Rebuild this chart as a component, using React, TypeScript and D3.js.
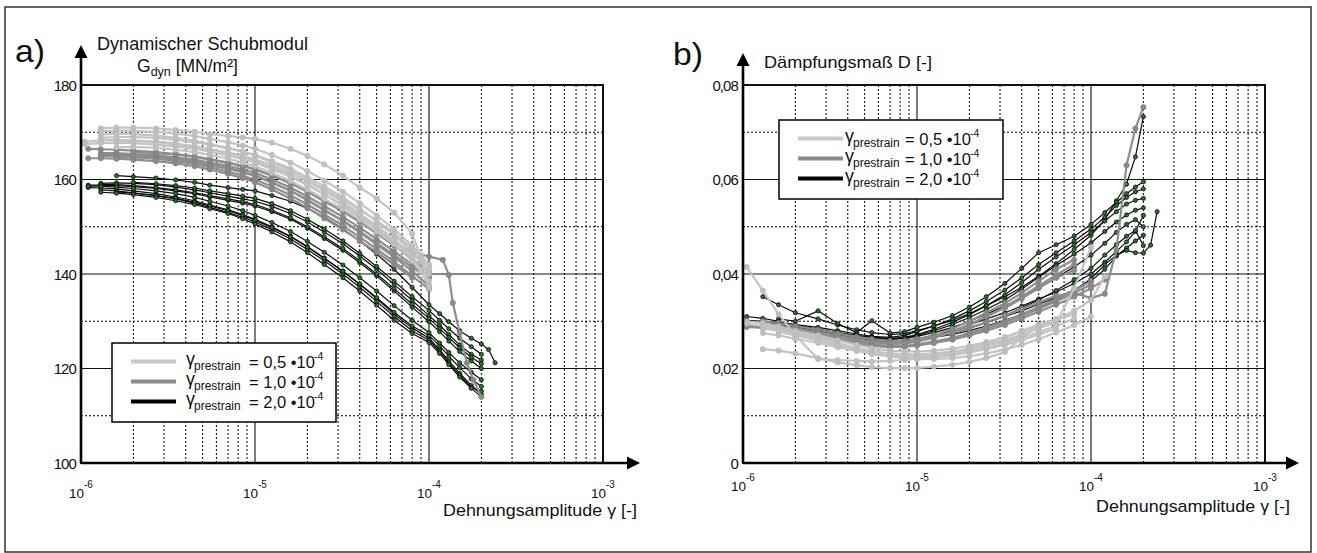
import React from 'react';
import * as d3 from 'd3';

const FONT = "'Liberation Sans', Arial, Helvetica, sans-serif";

type Curve = (number | null)[];

// ---------- Panel a) dynamic shear modulus G_dyn [MN/m²] ----------
const STRAIN_LEFT_LIGHT = [1.05e-6, 1.3e-6, 1.6e-6, 2e-6, 2.7e-6, 3.5e-6, 4.5e-6, 5.5e-6, 7e-6, 8.5e-6, 1e-5, 1.25e-5, 1.6e-5, 2e-5, 2.5e-5, 3.2e-5, 4e-5, 5e-5, 6.3e-5, 8e-5, 9e-5, 1e-4];
const LEFT_LIGHT: Curve[] = [
  [null, 170.8, 171.0, 171.0, 170.8, 170.5, 170.1, 169.6, 169.2, 168.9, 168.6, 167.8, 166.5, 165.0, 163.2, 160.8, 158.3, 156.0, 153.0, 148.5, 143.5, 137.0],
  [null, 170.2, 170.4, 170.3, 170.1, 169.7, 169.2, 168.6, 167.9, 167.2, 166.5, 165.2, 163.6, 161.8, 159.8, 157.4, 155.0, 152.4, 149.5, 146.0, 144.0, 142.0],
  [168.0, 168.3, 168.4, 168.3, 168.0, 167.6, 167.0, 166.4, 165.6, 164.8, 164.0, 162.6, 160.9, 159.0, 156.9, 154.4, 152.0, 149.6, 147.0, 144.0, 142.8, 141.5],
  [null, 168.8, 169.0, 169.0, 168.8, 168.4, 167.9, 167.3, 166.6, 165.9, 165.2, 163.9, 162.3, 160.5, 158.6, 156.2, 153.8, 151.2, 148.2, 144.8, 142.6, 140.0],
  [null, null, 168.0, 168.1, 167.9, 167.5, 167.0, 166.4, 165.7, 165.0, 164.3, 163.0, 161.4, 159.6, 157.6, 155.2, 152.8, 150.2, 147.4, 144.0],
  [167.5, 167.7, 167.8, 167.7, 167.4, 167.0, 166.5, 165.9, 165.1, 164.3, 163.6, 162.2, 160.6, 158.8, 156.8, 154.6, 152.4, 150.0, 147.0, 143.4, 141.0, 138.5],
  [null, 169.5, 169.7, 169.6, 169.3, 168.8, 168.2, 167.5, 166.7, 165.9, 165.1, 163.6, 161.9, 160.0, 158.0, 155.8, 153.6, 151.3, 148.6, 145.4, 143.5, 141.0],
  [null, null, 166.8, 166.9, 166.7, 166.3, 165.8, 165.2, 164.4, 163.6, 162.8, 161.4, 159.7, 157.9, 155.9, 153.7, 151.5, 149.0, 146.3, 142.7, 140.5, 137.5],
];

const STRAIN_LEFT_MID = [1.1e-6, 1.3e-6, 1.6e-6, 2e-6, 2.7e-6, 3.5e-6, 4.5e-6, 5.5e-6, 7e-6, 8.5e-6, 1e-5, 1.25e-5, 1.6e-5, 2e-5, 2.5e-5, 3.2e-5, 4e-5, 5e-5, 6.3e-5, 8e-5, 1e-4, 1.2e-4, 1.3e-4, 1.37e-4, 1.5e-4, 1.65e-4, 1.8e-4, 2e-4];
const LEFT_MID: Curve[] = [
  [166.5, 166.4, 166.3, 166.1, 165.8, 165.4, 164.9, 164.3, 163.6, 162.9, 162.2, 160.9, 159.3, 157.5, 155.6, 153.4, 151.2, 149.0, 146.6, 144.6, 143.7, 143.0, 139.8, 133.9, 127.5, 121.2, 117.6, 114.0],
  [null, 165.6, 165.6, 165.4, 165.1, 164.7, 164.2, 163.6, 162.9, 162.1, 161.4, 160.0, 158.3, 156.4, 154.4, 152.1, 149.8, 147.4, 144.8, 142.0, 139.5],
  [null, 165.2, 165.3, 165.1, 164.8, 164.4, 163.9, 163.2, 162.4, 161.6, 160.8, 159.4, 157.6, 155.6, 153.5, 151.2, 148.8, 146.3, 143.6, 140.6, 137.5],
  [null, null, 164.8, 164.7, 164.5, 164.1, 163.6, 163.0, 162.3, 161.5, 160.8, 159.3, 157.6, 155.7, 153.6, 151.3, 149.0, 146.6, 144.0, 141.4, 139.2],
  [null, 165.0, 165.0, 164.8, 164.4, 163.9, 163.3, 162.6, 161.7, 160.8, 160.0, 158.5, 156.7, 154.7, 152.6, 150.2, 147.8, 145.3, 142.6, 139.6, 136.8],
  [null, null, null, 165.8, 165.6, 165.3, 164.8, 164.2, 163.5, 162.8, 162.1, 160.8, 159.2, 157.4, 155.4, 153.2, 151.0, 148.6, 146.0, 143.2, 140.5],
  [164.5, 164.5, 164.4, 164.2, 163.9, 163.4, 162.8, 162.1, 161.2, 160.3, 159.4, 157.9, 156.0, 154.0, 151.8, 149.4, 147.0, 144.6, 142.0, 139.2],
];

const STRAIN_LEFT_DARK = [1.1e-6, 1.3e-6, 1.6e-6, 2e-6, 2.7e-6, 3.5e-6, 4.5e-6, 5.5e-6, 7e-6, 8.5e-6, 1e-5, 1.25e-5, 1.6e-5, 2e-5, 2.5e-5, 3.2e-5, 4e-5, 5e-5, 6.3e-5, 8e-5, 1e-4, 1.15e-4, 1.3e-4, 1.5e-4, 1.75e-4, 2e-4, 2.2e-4, 2.4e-4];
const LEFT_DARK: Curve[] = [
  [null, null, 160.8, 160.6, 160.3, 159.9, 159.4, 158.8, 158.3, 157.9, 157.6, 156.6, 155.4, 153.9, 152.0, 149.6, 147.0, 144.2, 141.0, 137.2, 133.5, 131.6, 129.9, 128.0, 126.4, 125.2, 124.0, 121.2],
  [null, 159.2, 159.3, 159.2, 158.9, 158.4, 157.8, 157.2, 156.5, 155.9, 155.4, 154.3, 152.8, 151.0, 148.9, 146.4, 143.8, 141.0, 137.8, 134.4, 131.2, 129.2, 127.2, 125.0, 123.0, 121.8],
  [158.8, 158.8, 158.7, 158.5, 158.1, 157.6, 157.0, 156.3, 155.6, 155.0, 154.4, 153.2, 151.6, 149.7, 147.5, 145.0, 142.4, 139.6, 136.4, 133.0, 129.9, 127.8, 125.8, 123.6, 121.6, 120.0],
  [null, 158.9, 158.9, 158.7, 158.3, 157.8, 157.2, 156.6, 155.9, 155.3, 154.7, 153.5, 151.9, 150.0, 147.9, 145.4, 142.8, 140.0, 136.9, 133.6, 130.6, 128.5, 126.6, 124.4, 122.4, 121.0],
  [null, null, null, 159.4, 159.1, 158.7, 158.2, 157.6, 157.0, 156.5, 156.0, 154.9, 153.4, 151.6, 149.5, 147.0, 144.4, 141.6, 138.5, 135.2, 132.3, 130.2, 128.4, 126.4, 124.6, 123.0],
  [158.3, 158.2, 158.0, 157.6, 157.0, 156.3, 155.5, 154.6, 153.6, 152.6, 151.6, 150.0, 148.0, 145.8, 143.4, 140.6, 137.8, 134.8, 131.5, 128.6, 126.4, 124.0, 121.6, 119.0, 116.4, 114.5],
  [null, 157.8, 157.6, 157.2, 156.6, 155.9, 155.0, 154.1, 153.0, 152.0, 151.0, 149.4, 147.4, 145.2, 142.8, 140.0, 137.2, 134.2, 131.0, 128.0, 126.0, 123.6, 121.2, 118.6, 116.0, 115.2],
  [null, null, 157.4, 157.1, 156.6, 156.0, 155.2, 154.4, 153.4, 152.4, 151.4, 149.8, 147.9, 145.7, 143.3, 140.6, 137.9, 135.0, 131.9, 129.0, 127.0, 124.8, 122.6, 120.2, 117.8, 116.2],
  [158.6, 158.6, 158.4, 158.1, 157.6, 157.0, 156.2, 155.4, 154.4, 153.4, 152.4, 150.9, 149.0, 146.9, 144.6, 141.9, 139.2, 136.4, 133.3, 130.2, 127.6, 125.4, 123.4, 121.2, 119.2, 117.6],
  [null, 157.3, 157.1, 156.8, 156.2, 155.5, 154.7, 153.8, 152.8, 151.7, 150.6, 148.9, 146.8, 144.5, 142.0, 139.2, 136.4, 133.4, 130.2, 127.4, 125.5, 123.2, 120.8, 118.2, 115.8, 114.0],
];

// ---------- Panel b) damping ratio D [-] ----------
const STRAIN_RIGHT = [1.05e-6, 1.3e-6, 1.6e-6, 2e-6, 2.7e-6, 3.5e-6, 4.5e-6, 5.5e-6, 7e-6, 8.5e-6, 1e-5, 1.25e-5, 1.6e-5, 2e-5, 2.5e-5, 3.2e-5, 4e-5, 5e-5, 6.3e-5, 8e-5, 1e-4, 1.2e-4, 1.4e-4, 1.6e-4, 1.8e-4, 2e-4, 2.2e-4, 2.4e-4];
const RIGHT_LIGHT: Curve[] = [
  [0.0415, 0.0365, 0.0315, 0.0270, 0.0220, 0.0218, 0.0216, 0.0215, 0.0216, 0.0218, 0.0221, 0.0226, 0.0233, 0.0242, 0.0253, 0.0266, 0.0280, 0.0293, 0.0305],
  [null, 0.0241, 0.0238, 0.0232, 0.0222, 0.0213, 0.0207, 0.0203, 0.0201, 0.0201, 0.0201, 0.0204, 0.0208, 0.0214, 0.0222, 0.0235, 0.0265, 0.0292, 0.0296, 0.0370, 0.0457],
  [null, 0.0292, 0.0287, 0.0280, 0.0270, 0.0260, 0.0250, 0.0243, 0.0238, 0.0236, 0.0236, 0.0238, 0.0242, 0.0248, 0.0256, 0.0266, 0.0278, 0.0290, 0.0302, 0.0315],
  [0.0300, 0.0296, 0.0289, 0.0279, 0.0266, 0.0254, 0.0244, 0.0237, 0.0232, 0.0230, 0.0230, 0.0232, 0.0236, 0.0242, 0.0250, 0.0260, 0.0272, 0.0285, 0.0298],
  [null, 0.0285, 0.0280, 0.0272, 0.0261, 0.0250, 0.0240, 0.0233, 0.0228, 0.0226, 0.0226, 0.0228, 0.0232, 0.0238, 0.0245, 0.0254, 0.0265, 0.0277, 0.0290, 0.0305],
  [null, null, 0.0278, 0.0270, 0.0259, 0.0248, 0.0238, 0.0231, 0.0226, 0.0223, 0.0222, 0.0224, 0.0228, 0.0234, 0.0241, 0.0250, 0.0260, 0.0272, 0.0284],
  [0.0295, 0.0290, 0.0283, 0.0274, 0.0262, 0.0250, 0.0240, 0.0232, 0.0226, 0.0222, 0.0220, 0.0220, 0.0222, 0.0226, 0.0232, 0.0240, 0.0250, 0.0262, 0.0276, 0.0292, 0.0310],
  [null, 0.0275, 0.0270, 0.0263, 0.0254, 0.0245, 0.0237, 0.0231, 0.0227, 0.0225, 0.0225, 0.0227, 0.0231, 0.0237, 0.0245, 0.0256, 0.0270, 0.0286, 0.0303, 0.0322, 0.0345, 0.0395],
];
const RIGHT_MID: Curve[] = [
  [null, 0.0300, 0.0296, 0.0290, 0.0282, 0.0274, 0.0267, 0.0262, 0.0258, 0.0258, 0.0262, 0.0268, 0.0276, 0.0286, 0.0298, 0.0312, 0.0326, 0.0340, 0.0354, 0.0360, 0.0349, 0.0358, 0.0451, 0.0630, 0.0708, 0.0753],
  [0.0290, 0.0288, 0.0285, 0.0280, 0.0273, 0.0266, 0.0259, 0.0255, 0.0252, 0.0253, 0.0257, 0.0265, 0.0277, 0.0292, 0.0310, 0.0330, 0.0352, 0.0375, 0.0398, 0.0420],
  [null, 0.0295, 0.0291, 0.0285, 0.0277, 0.0269, 0.0262, 0.0257, 0.0254, 0.0255, 0.0260, 0.0270, 0.0284, 0.0300, 0.0318, 0.0338, 0.0360, 0.0385, 0.0410, 0.0430],
  [null, null, 0.0282, 0.0277, 0.0270, 0.0263, 0.0256, 0.0251, 0.0248, 0.0248, 0.0251, 0.0257, 0.0265, 0.0275, 0.0287, 0.0300, 0.0315, 0.0330, 0.0347, 0.0365, 0.0385],
  [null, 0.0285, 0.0282, 0.0276, 0.0268, 0.0260, 0.0253, 0.0248, 0.0245, 0.0246, 0.0249, 0.0255, 0.0263, 0.0273, 0.0284, 0.0297, 0.0311, 0.0326, 0.0342, 0.0360, 0.0378],
  [null, null, null, 0.0282, 0.0275, 0.0268, 0.0261, 0.0256, 0.0253, 0.0254, 0.0258, 0.0266, 0.0278, 0.0293, 0.0310, 0.0328, 0.0348, 0.0370, 0.0392, 0.0408],
  [0.0288, 0.0286, 0.0282, 0.0276, 0.0268, 0.0260, 0.0253, 0.0249, 0.0246, 0.0246, 0.0249, 0.0254, 0.0261, 0.0270, 0.0280, 0.0292, 0.0306, 0.0320, 0.0335, 0.0352, 0.0370, 0.0388],
];
const RIGHT_DARK: Curve[] = [
  [null, 0.0352, 0.0335, 0.0318, 0.0305, 0.0292, 0.0282, 0.0276, 0.0272, 0.0274, 0.0280, 0.0290, 0.0302, 0.0316, 0.0333, 0.0352, 0.0372, 0.0395, 0.0422, 0.0452, 0.0482, 0.0515, 0.0555, 0.0590, 0.0648, 0.0733],
  [null, null, 0.0305, 0.0300, 0.0322, 0.0295, 0.0276, 0.0301, 0.0275, 0.0278, 0.0287, 0.0298, 0.0312, 0.0330, 0.0352, 0.0380, 0.0412, 0.0445, 0.0462, 0.0480, 0.0505, 0.0530, 0.0552, 0.0570, 0.0584, 0.0595],
  [null, 0.0300, 0.0298, 0.0293, 0.0287, 0.0280, 0.0273, 0.0268, 0.0266, 0.0270, 0.0278, 0.0290, 0.0305, 0.0322, 0.0342, 0.0366, 0.0392, 0.0420, 0.0445, 0.0470, 0.0495, 0.0520, 0.0545, 0.0562, 0.0574, 0.0580],
  [0.0302, 0.0300, 0.0296, 0.0290, 0.0283, 0.0276, 0.0270, 0.0266, 0.0264, 0.0266, 0.0272, 0.0283, 0.0298, 0.0314, 0.0333, 0.0356, 0.0382, 0.0410, 0.0436, 0.0462, 0.0488, 0.0512, 0.0532, 0.0548, 0.0556, 0.0560],
  [null, null, 0.0296, 0.0290, 0.0282, 0.0274, 0.0268, 0.0264, 0.0262, 0.0264, 0.0270, 0.0280, 0.0293, 0.0308, 0.0325, 0.0345, 0.0368, 0.0393, 0.0418, 0.0442, 0.0466, 0.0490, 0.0510, 0.0525, 0.0535, 0.0540],
  [null, 0.0298, 0.0294, 0.0288, 0.0280, 0.0272, 0.0265, 0.0261, 0.0259, 0.0260, 0.0263, 0.0270, 0.0280, 0.0292, 0.0305, 0.0318, 0.0332, 0.0347, 0.0362, 0.0380, 0.0400, 0.0425, 0.0448, 0.0468, 0.0490, 0.0524],
  [null, null, 0.0290, 0.0284, 0.0276, 0.0268, 0.0262, 0.0258, 0.0256, 0.0257, 0.0260, 0.0266, 0.0275, 0.0285, 0.0297, 0.0310, 0.0322, 0.0336, 0.0350, 0.0366, 0.0385, 0.0410, 0.0438, 0.0455, 0.0470, 0.0482],
  [null, null, null, 0.0285, 0.0278, 0.0270, 0.0263, 0.0259, 0.0257, 0.0258, 0.0261, 0.0266, 0.0272, 0.0280, 0.0290, 0.0302, 0.0315, 0.0328, 0.0345, 0.0365, 0.0390, 0.0420, 0.0440, 0.0450, 0.0445, 0.0444, 0.0461, 0.0532],
  [0.0310, 0.0306, 0.0300, 0.0292, 0.0283, 0.0275, 0.0268, 0.0264, 0.0262, 0.0264, 0.0268, 0.0276, 0.0287, 0.0300, 0.0315, 0.0332, 0.0350, 0.0370, 0.0392, 0.0415, 0.0440, 0.0465, 0.0488, 0.0505, 0.0515, 0.0500],
  [null, 0.0292, 0.0288, 0.0283, 0.0277, 0.0270, 0.0264, 0.0260, 0.0258, 0.0259, 0.0262, 0.0268, 0.0276, 0.0286, 0.0298, 0.0312, 0.0328, 0.0345, 0.0365, 0.0388, 0.0412, 0.0440, 0.0462, 0.0480, 0.0492, 0.0460],
];

const LEGEND_LABELS = ['0,5', '1,0', '2,0'];
const Y_TICKS_LEFT = [100, 120, 140, 160, 180];
const Y_MAJOR_LEFT = [120, 140, 160];
const Y_MINOR_LEFT = [110, 130, 150, 170];
const Y_TICKS_RIGHT = [0, 0.02, 0.04, 0.06, 0.08];
const Y_MAJOR_RIGHT = [0.02, 0.04, 0.06];
const Y_MINOR_RIGHT = [0.01, 0.03, 0.05, 0.07];
const X_DECADES = [1e-6, 1e-5, 1e-4, 1e-3];

const STYLE = {
  light: { stroke: '#c4c4c4', width: 2.2, fill: '#c0c0c0', mstroke: '#b8b8b8', r: 2.6 },
  mid: { stroke: '#8e8e8e', width: 2.2, fill: '#8a8a8a', mstroke: '#808080', r: 2.6 },
  dark: { stroke: '#0a0a0a', width: 1.2, fill: '#2f6e2f', mstroke: '#000', r: 2.1 },
};

const MINOR_X = [1e-6, 1e-5, 1e-4].flatMap((d) => [2, 3, 4, 5, 6, 7, 8, 9].map((k) => k * d));

function Series({ strains, curves, x, y, st }: any) {
  const line = d3.line<[number, number]>().x((d) => x(d[0])).y((d) => y(d[1]));
  return (
    <g>
      {curves.map((c: Curve, i: number) => {
        const pts = c
          .map((v, j) => [strains[j], v] as [number, number | null])
          .filter((p) => p[1] != null) as [number, number][];
        return (
          <g key={i}>
            <path d={line(pts) || ''} fill="none" stroke={st.stroke} strokeWidth={st.width} strokeLinejoin="round" />
            {pts.map((p, k) => (
              <circle key={k} cx={x(p[0])} cy={y(p[1])} r={st.r} fill={st.fill} stroke={st.mstroke} strokeWidth={0.7} />
            ))}
          </g>
        );
      })}
    </g>
  );
}

function Legend({ bx, by, gx, eqx }: any) {
  const colors = ['#c8c8c8', '#8a8a8a', '#000'];
  return (
    <g fontFamily={FONT}>
      <rect x={bx} y={by} width={224} height={79} fill="#fff" stroke="#000" strokeWidth={1.5} />
      {LEGEND_LABELS.map((lab, i) => {
        const ry = by + 18.5 + i * 20;
        return (
          <g key={i}>
            <line x1={bx + 19} x2={bx + 64} y1={ry} y2={ry} stroke={colors[i]} strokeWidth={4} />
            <text x={bx + gx} y={ry + 3} fontSize={18} fill="#111">γ</text>
            <text x={bx + gx + 8} y={ry + 8} fontSize={12} fill="#111">prestrain</text>
            <text x={bx + eqx} y={ry + 6} fontSize={16.5} fill="#111">{`= ${lab} •10`}</text>
            <text x={bx + eqx + 65} y={ry - 1.5} fontSize={10.5} fill="#111">-4</text>
          </g>
        );
      })}
    </g>
  );
}

function Panel({ x, y, yTicks, yMajor, yMinor, fmt, data, legend, arrowTop, xArrowTip, tickBase, children }: any) {
  const [x0, x1] = x.range();
  const [yb, yt] = y.range();
  return (
    <g>
      {MINOR_X.map((v, i) => (
        <line key={'mx' + i} x1={x(v)} x2={x(v)} y1={yt} y2={yb} stroke="#000" strokeWidth={1} strokeDasharray="2,2" />
      ))}
      {yMinor.map((v: number, i: number) => (
        <line key={'my' + i} x1={x0} x2={x1} y1={y(v)} y2={y(v)} stroke="#000" strokeWidth={1} strokeDasharray="2,2" />
      ))}
      {X_DECADES.slice(1, 3).map((v, i) => (
        <line key={'Mx' + i} x1={x(v)} x2={x(v)} y1={yt} y2={yb} stroke="#111" strokeWidth={1.1} />
      ))}
      {yMajor.map((v: number, i: number) => (
        <line key={'My' + i} x1={x0} x2={x1} y1={y(v)} y2={y(v)} stroke="#111" strokeWidth={1.1} />
      ))}
      <Series strains={data.sd} curves={data.dark} x={x} y={y} st={STYLE.dark} />
      <Series strains={data.sm} curves={data.mid} x={x} y={y} st={STYLE.mid} />
      <Series strains={data.sl} curves={data.light} x={x} y={y} st={STYLE.light} />
      <Legend {...legend} />
      <rect x={x0} y={yt} width={x1 - x0} height={yb - yt} fill="none" stroke="#111" strokeWidth={2} />
      <line x1={x0} x2={xArrowTip - 12} y1={yb} y2={yb} stroke="#000" strokeWidth={2.6} />
      <path d={`M${xArrowTip},${yb} L${xArrowTip - 13},${yb - 6.5} L${xArrowTip - 13},${yb + 6.5} Z`} fill="#000" />
      <line x1={x0} x2={x0} y1={yb} y2={arrowTop + 10} stroke="#000" strokeWidth={2.6} />
      <path d={`M${x0},${arrowTop} L${x0 - 6.5},${arrowTop + 13} L${x0 + 6.5},${arrowTop + 13} Z`} fill="#000" />
      <g fontFamily={FONT} fill="#111">
        {yTicks.map((v: number, i: number) => (
          <text key={'yt' + i} x={x0 - 5} y={y(v) + 5.5} fontSize={15} textAnchor="end" letterSpacing={-0.9}>
            {fmt(v)}
          </text>
        ))}
        {X_DECADES.map((v, i) => (
          <g key={'xt' + i}>
            <text x={x(v) + 3} y={tickBase} fontSize={13.5} textAnchor="end">10</text>
            <text x={x(v) + 3} y={tickBase - 10.5} fontSize={10}>{`-${6 - i}`}</text>
          </g>
        ))}
      </g>
      {children}
    </g>
  );
}

export default function App() {
  const xL = d3.scaleLog().domain([1e-6, 1e-3]).range([81, 603]);
  const yL = d3.scaleLinear().domain([100, 180]).range([463, 85]);
  const xR = d3.scaleLog().domain([1e-6, 1e-3]).range([743, 1265]);
  const yR = d3.scaleLinear().domain([0, 0.08]).range([463, 85]);
  const fmtR = (v: number) => (v === 0 ? '0' : d3.format('.2f')(v).replace('.', ','));
  return (
    <svg width={1317} height={553} style={{ position: 'absolute', left: 0, top: 0, background: '#fff' }}>
      <rect x={0} y={0} width={1317} height={553} fill="#fff" />
      <rect x={5} y={7} width={1306} height={545} fill="none" stroke="#333" strokeWidth={1.5} />
      <Panel
        x={xL}
        y={yL}
        yTicks={Y_TICKS_LEFT}
        yMajor={Y_MAJOR_LEFT}
        yMinor={Y_MINOR_LEFT}
        fmt={(v: number) => String(v)}
        data={{ sl: STRAIN_LEFT_LIGHT, light: LEFT_LIGHT, sm: STRAIN_LEFT_MID, mid: LEFT_MID, sd: STRAIN_LEFT_DARK, dark: LEFT_DARK }}
        legend={{ bx: 112, by: 343, gx: 74, eqx: 137 }}
        arrowTop={45}
        xArrowTip={640}
        tickBase={498}
      >
        <g fontFamily={FONT} fill="#111">
          <text x={15} y={62} fontSize={32} textLength={30} lengthAdjust="spacingAndGlyphs">a)</text>
          <text x={97} y={50} fontSize={17.5} textLength={211} lengthAdjust="spacingAndGlyphs">Dynamischer Schubmodul</text>
          <text x={137} y={72} fontSize={17.5}>
            G<tspan fontSize={12.5} dy={4}>dyn</tspan><tspan dy={-4}> [MN/m²]</tspan>
          </text>
          <text x={637} y={516} fontSize={17} textAnchor="end" textLength={194} lengthAdjust="spacingAndGlyphs">Dehnungsamplitude γ [-]</text>
        </g>
      </Panel>
      <Panel
        x={xR}
        y={yR}
        yTicks={Y_TICKS_RIGHT}
        yMajor={Y_MAJOR_RIGHT}
        yMinor={Y_MINOR_RIGHT}
        fmt={fmtR}
        data={{ sl: STRAIN_RIGHT, light: RIGHT_LIGHT, sm: STRAIN_RIGHT, mid: RIGHT_MID, sd: STRAIN_RIGHT, dark: RIGHT_DARK }}
        legend={{ bx: 779, by: 120, gx: 66, eqx: 126 }}
        arrowTop={53}
        xArrowTip={1299}
        tickBase={491}
      >
        <g fontFamily={FONT} fill="#111">
          <text x={673} y={65} fontSize={32} textLength={30} lengthAdjust="spacingAndGlyphs">b)</text>
          <text x={764} y={68} fontSize={17} textLength={168} lengthAdjust="spacingAndGlyphs">Dämpfungsmaß D [-]</text>
          <text x={1290} y={512} fontSize={17} textAnchor="end" textLength={194} lengthAdjust="spacingAndGlyphs">Dehnungsamplitude γ [-]</text>
        </g>
      </Panel>
    </svg>
  );
}
